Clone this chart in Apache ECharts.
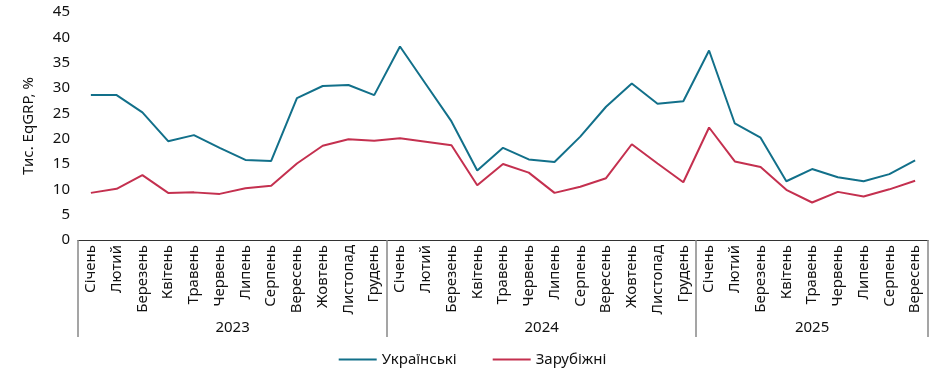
<!DOCTYPE html>
<html>
<head>
<meta charset="utf-8">
<script src="https://cdn.jsdelivr.net/npm/echarts@6/dist/echarts.min.js"></script>
<style>
html,body{margin:0;padding:0;background:#fff;}
#chart{width:945px;height:372px;}
</style>
</head>
<body>
<div id="chart"></div>
<script>
const months = ['Січень','Лютий','Березень','Квітень','Травень','Червень','Липень','Серпень','Вересень','Жовтень','Листопад','Грудень'];
const years = ['2023','2024','2025'];
const monthsPerYear = [12, 12, 9];
const yTicks = [0, 5, 10, 15, 20, 25, 30, 35, 40, 45];

const ukrainian = [
  28.6, 28.6, 25.2, 19.5, 20.7, 18.2, 15.8, 15.6, 28.0, 30.4, 30.6, 28.6,
  38.2, 30.8, 23.4, 13.7, 18.2, 15.9, 15.4, 20.4, 26.3, 30.9, 26.9, 27.4,
  37.4, 23.0, 20.2, 11.6, 14.0, 12.4, 11.6, 13.0, 15.7
];
const foreign = [
  9.3, 10.1, 12.8, 9.3, 9.4, 9.1, 10.2, 10.7, 15.1, 18.6, 19.9, 19.6,
  20.1, 19.4, 18.7, 10.8, 15.0, 13.3, 9.3, 10.5, 12.2, 18.9, 15.1, 11.4,
  22.2, 15.5, 14.4, 9.9, 7.4, 9.5, 8.6, 10.0, 11.7
];

const categories = [];
monthsPerYear.forEach((n) => { for (let i = 0; i < n; i++) categories.push(months[i]); });
const total = categories.length;

const halfPts = [];
const boundaryIdx = [0];
const labelAt = {};
let acc = 0;
monthsPerYear.forEach((n, yi) => {
  labelAt[2 * acc + n] = years[yi];
  acc += n;
  boundaryIdx.push(2 * acc);
});
for (let i = 0; i <= 2 * total; i++) halfPts.push(labelAt[i] || '');

const FONT = 'Noto Sans';
const FS = 15;
const TXT = '#111';
const chart = echarts.init(document.getElementById('chart'));
chart.setOption({
  animation: false,
  textStyle: { fontFamily: FONT },
  grid: { left: 78, right: 17, top: 12, bottom: 132, containLabel: false },
  legend: {
    bottom: 0,
    left: 'center',
    icon: 'rect',
    itemWidth: 38,
    itemHeight: 2,
    itemGap: 36,
    textStyle: { fontFamily: FONT, fontSize: FS, color: TXT },
    data: ['Українські', 'Зарубіжні']
  },
  xAxis: [
    {
      type: 'category',
      data: categories,
      boundaryGap: true,
      axisLine: { show: true, lineStyle: { color: '#333', width: 1.2 } },
      axisTick: { show: false },
      axisLabel: {
        interval: 0, rotate: 90, margin: 5,
        fontFamily: FONT, fontSize: FS, color: TXT
      }
    },
    {
      type: 'category',
      data: halfPts,
      boundaryGap: false,
      position: 'bottom',
      offset: 0,
      axisLine: { show: false },
      axisTick: {
        show: true,
        length: 97,
        interval: (i) => boundaryIdx.indexOf(i) >= 0,
        lineStyle: { color: '#888', width: 1.5 }
      },
      axisLabel: {
        interval: 0, margin: 80,
        fontFamily: FONT, fontSize: FS, color: TXT
      }
    }
  ],
  yAxis: {
    type: 'value',
    min: yTicks[0],
    max: yTicks[yTicks.length - 1],
    interval: 5,
    name: 'Тис. EqGRP, %',
    nameLocation: 'middle',
    nameGap: 42,
    nameTextStyle: { fontFamily: FONT, fontSize: FS, color: TXT },
    axisLine: { show: false },
    axisTick: { show: false },
    splitLine: { show: false },
    axisLabel: { fontFamily: FONT, fontSize: FS, color: TXT, margin: 8 }
  },
  series: [
    {
      name: 'Українські', type: 'line', data: ukrainian,
      symbol: 'none', xAxisIndex: 0,
      lineStyle: { color: '#12708a', width: 2 },
      itemStyle: { color: '#12708a' }
    },
    {
      name: 'Зарубіжні', type: 'line', data: foreign,
      symbol: 'none', xAxisIndex: 0,
      lineStyle: { color: '#c4304f', width: 2 },
      itemStyle: { color: '#c4304f' }
    }
  ]
});
</script>
</body>
</html>
